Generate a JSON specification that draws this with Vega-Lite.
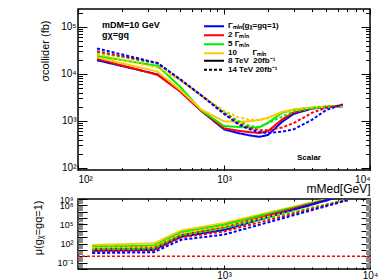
{
  "$schema": "https://vega.github.io/schema/vega-lite/v6.json",
  "autosize": "none",
  "padding": {"left": 78, "top": 9, "right": 312, "bottom": 271},
  "background": "white",
  "spacing": 29,
  "bounds": "flush",
  "config": {
    "font": "Liberation Sans",
    "view": {"stroke": "black", "strokeWidth": 1.5},
    "axis": {"domain": false, "grid": false, "ticks": true, "tickColor": "black", "tickWidth": 1, "labelColor": "black", "labelFont": "Liberation Sans", "labelFontSize": 10, "labelOverlap": false, "titleFont": "Liberation Sans", "titleFontWeight": "normal", "titleColor": "black"},
    "legend": {"orient": "none", "title": null, "direction": "vertical", "symbolType": "stroke", "symbolSize": 400, "symbolStrokeWidth": 2, "labelFont": "Liberation Sans", "labelFontWeight": "bold", "labelFontSize": 8, "labelColor": "black", "rowPadding": 0, "clipHeight": 8.6, "padding": 0, "labelOffset": 3}
  },
  "datasets": {
    "top": [
      {"m":135,"sigma":19500,"width":"1","energy":"8"},{"m":350,"sigma":9770,"width":"1","energy":"8"},{"m":500,"sigma":4270,"width":"1","energy":"8"},{"m":700,"sigma":1620,"width":"1","energy":"8"},{"m":1000,"sigma":661,"width":"1","energy":"8"},{"m":1250,"sigma":550,"width":"1","energy":"8"},{"m":1500,"sigma":490,"width":"1","energy":"8"},{"m":1750,"sigma":457,"width":"1","energy":"8"},{"m":2000,"sigma":501,"width":"1","energy":"8"},{"m":2500,"sigma":955,"width":"1","energy":"8"},{"m":3000,"sigma":1410,"width":"1","energy":"8"},{"m":4000,"sigma":1820,"width":"1","energy":"8"},{"m":5000,"sigma":1950,"width":"1","energy":"8"},{"m":6500,"sigma":2040,"width":"1","energy":"8"},
      {"m":135,"sigma":20900,"width":"2","energy":"8"},{"m":350,"sigma":9550,"width":"2","energy":"8"},{"m":500,"sigma":4270,"width":"2","energy":"8"},{"m":700,"sigma":1620,"width":"2","energy":"8"},{"m":1000,"sigma":692,"width":"2","energy":"8"},{"m":1250,"sigma":617,"width":"2","energy":"8"},{"m":1500,"sigma":575,"width":"2","energy":"8"},{"m":1750,"sigma":550,"width":"2","energy":"8"},{"m":2000,"sigma":603,"width":"2","energy":"8"},{"m":2500,"sigma":1070,"width":"2","energy":"8"},{"m":3000,"sigma":1510,"width":"2","energy":"8"},{"m":4000,"sigma":1860,"width":"2","energy":"8"},{"m":5000,"sigma":2000,"width":"2","energy":"8"},{"m":6500,"sigma":2040,"width":"2","energy":"8"},
      {"m":135,"sigma":24000,"width":"5","energy":"8"},{"m":350,"sigma":14800,"width":"5","energy":"8"},{"m":500,"sigma":5370,"width":"5","energy":"8"},{"m":700,"sigma":1660,"width":"5","energy":"8"},{"m":1000,"sigma":776,"width":"5","energy":"8"},{"m":1250,"sigma":741,"width":"5","energy":"8"},{"m":1500,"sigma":724,"width":"5","energy":"8"},{"m":1750,"sigma":724,"width":"5","energy":"8"},{"m":2000,"sigma":912,"width":"5","energy":"8"},{"m":2500,"sigma":1480,"width":"5","energy":"8"},{"m":3000,"sigma":1740,"width":"5","energy":"8"},{"m":4000,"sigma":1910,"width":"5","energy":"8"},{"m":5000,"sigma":2000,"width":"5","energy":"8"},{"m":6500,"sigma":2040,"width":"5","energy":"8"},
      {"m":135,"sigma":22400,"width":"10","energy":"8"},{"m":350,"sigma":11200,"width":"10","energy":"8"},{"m":500,"sigma":4570,"width":"10","energy":"8"},{"m":700,"sigma":1740,"width":"10","energy":"8"},{"m":1000,"sigma":977,"width":"10","energy":"8"},{"m":1250,"sigma":955,"width":"10","energy":"8"},{"m":1500,"sigma":977,"width":"10","energy":"8"},{"m":1750,"sigma":1050,"width":"10","energy":"8"},{"m":2000,"sigma":1150,"width":"10","energy":"8"},{"m":2500,"sigma":1550,"width":"10","energy":"8"},{"m":3000,"sigma":1740,"width":"10","energy":"8"},{"m":4000,"sigma":1910,"width":"10","energy":"8"},{"m":5000,"sigma":2000,"width":"10","energy":"8"},{"m":6500,"sigma":2040,"width":"10","energy":"8"},
      {"m":135,"sigma":26300,"width":"10","energy":"14"},{"m":350,"sigma":13500,"width":"10","energy":"14"},{"m":500,"sigma":7410,"width":"10","energy":"14"},{"m":700,"sigma":3470,"width":"10","energy":"14"},{"m":1000,"sigma":1620,"width":"10","energy":"14"},{"m":1250,"sigma":1200,"width":"10","energy":"14"},{"m":1500,"sigma":1050,"width":"10","energy":"14"},{"m":1750,"sigma":1050,"width":"10","energy":"14"},{"m":2000,"sigma":1170,"width":"10","energy":"14"},{"m":2500,"sigma":1510,"width":"10","energy":"14"},{"m":3000,"sigma":1740,"width":"10","energy":"14"},{"m":4000,"sigma":1910,"width":"10","energy":"14"},{"m":5000,"sigma":2000,"width":"10","energy":"14"},{"m":6500,"sigma":2140,"width":"10","energy":"14"},
      {"m":135,"sigma":28800,"width":"5","energy":"14"},{"m":350,"sigma":16600,"width":"5","energy":"14"},{"m":500,"sigma":7590,"width":"5","energy":"14"},{"m":700,"sigma":3470,"width":"5","energy":"14"},{"m":1000,"sigma":1510,"width":"5","energy":"14"},{"m":1250,"sigma":1000,"width":"5","energy":"14"},{"m":1500,"sigma":776,"width":"5","energy":"14"},{"m":1750,"sigma":741,"width":"5","energy":"14"},{"m":2000,"sigma":891,"width":"5","energy":"14"},{"m":2500,"sigma":1230,"width":"5","energy":"14"},{"m":3000,"sigma":1580,"width":"5","energy":"14"},{"m":4000,"sigma":1860,"width":"5","energy":"14"},{"m":5000,"sigma":2000,"width":"5","energy":"14"},{"m":6500,"sigma":2140,"width":"5","energy":"14"},
      {"m":135,"sigma":30200,"width":"2","energy":"14"},{"m":350,"sigma":17000,"width":"2","energy":"14"},{"m":500,"sigma":7590,"width":"2","energy":"14"},{"m":700,"sigma":3470,"width":"2","energy":"14"},{"m":1000,"sigma":1450,"width":"2","energy":"14"},{"m":1250,"sigma":891,"width":"2","energy":"14"},{"m":1500,"sigma":708,"width":"2","energy":"14"},{"m":1750,"sigma":631,"width":"2","energy":"14"},{"m":2000,"sigma":631,"width":"2","energy":"14"},{"m":2500,"sigma":724,"width":"2","energy":"14"},{"m":3000,"sigma":891,"width":"2","energy":"14"},{"m":4000,"sigma":1480,"width":"2","energy":"14"},{"m":5000,"sigma":1910,"width":"2","energy":"14"},{"m":6500,"sigma":2190,"width":"2","energy":"14"},
      {"m":135,"sigma":34700,"width":"1","energy":"14"},{"m":350,"sigma":17000,"width":"1","energy":"14"},{"m":500,"sigma":7760,"width":"1","energy":"14"},{"m":700,"sigma":3470,"width":"1","energy":"14"},{"m":1000,"sigma":1410,"width":"1","energy":"14"},{"m":1250,"sigma":851,"width":"1","energy":"14"},{"m":1500,"sigma":661,"width":"1","energy":"14"},{"m":1750,"sigma":575,"width":"1","energy":"14"},{"m":2000,"sigma":550,"width":"1","energy":"14"},{"m":2500,"sigma":589,"width":"1","energy":"14"},{"m":3000,"sigma":661,"width":"1","energy":"14"},{"m":4000,"sigma":1050,"width":"1","energy":"14"},{"m":5000,"sigma":1700,"width":"1","energy":"14"},{"m":6500,"sigma":2240,"width":"1","energy":"14"}
    ],
    "bottom": [
      {"m":125,"mu":58.9,"width":"10","energy":"8"},{"m":330,"mu":105,"width":"10","energy":"8"},{"m":510,"mu":10700,"width":"10","energy":"8"},{"m":1000,"mu":166000,"width":"10","energy":"8"},{"m":7000,"mu":5620000000,"width":"10","energy":"8"},
      {"m":125,"mu":31.6,"width":"5","energy":"8"},{"m":330,"mu":44.7,"width":"5","energy":"8"},{"m":510,"mu":5750,"width":"5","energy":"8"},{"m":1000,"mu":89100,"width":"5","energy":"8"},{"m":7000,"mu":5500000000,"width":"5","energy":"8"},
      {"m":125,"mu":13.8,"width":"2","energy":"8"},{"m":330,"mu":20,"width":"2","energy":"8"},{"m":510,"mu":2240,"width":"2","energy":"8"},{"m":1000,"mu":35500,"width":"2","energy":"8"},{"m":7000,"mu":5370000000,"width":"2","energy":"8"},
      {"m":125,"mu":7.41,"width":"1","energy":"8"},{"m":330,"mu":10,"width":"1","energy":"8"},{"m":510,"mu":1200,"width":"1","energy":"8"},{"m":1000,"mu":13800,"width":"1","energy":"8"},{"m":7000,"mu":5250000000,"width":"1","energy":"8"},
      {"m":125,"mu":20,"width":"10","energy":"14"},{"m":330,"mu":28.2,"width":"10","energy":"14"},{"m":510,"mu":3980,"width":"10","energy":"14"},{"m":1000,"mu":50100,"width":"10","energy":"14"},{"m":7000,"mu":794000000,"width":"10","energy":"14"},
      {"m":125,"mu":11.2,"width":"5","energy":"14"},{"m":330,"mu":15.8,"width":"5","energy":"14"},{"m":510,"mu":2000,"width":"5","energy":"14"},{"m":1000,"mu":25100,"width":"5","energy":"14"},{"m":7000,"mu":759000000,"width":"5","energy":"14"},
      {"m":125,"mu":5.75,"width":"2","energy":"14"},{"m":330,"mu":7.94,"width":"2","energy":"14"},{"m":510,"mu":933,"width":"2","energy":"14"},{"m":1000,"mu":7940,"width":"2","energy":"14"},{"m":7000,"mu":708000000,"width":"2","energy":"14"},
      {"m":125,"mu":3.16,"width":"1","energy":"14"},{"m":330,"mu":4.27,"width":"1","energy":"14"},{"m":510,"mu":398,"width":"1","energy":"14"},{"m":1000,"mu":2510,"width":"1","energy":"14"},{"m":7000,"mu":631000000,"width":"1","energy":"14"}
    ]
  },
  "vconcat": [
    {
      "width": 292,
      "height": 161,
      "layer": [
        {
          "data": {"name": "top"},
          "mark": {"type": "line", "clip": true, "strokeWidth": 2},
          "encoding": {
            "x": {"field": "m", "type": "quantitative", "scale": {"type": "log", "domain": [100, 10000], "nice": false},
              "axis": {"orient": "bottom", "values": [100,200,300,400,500,600,700,800,900,1000,2000,3000,4000,5000,6000,7000,8000,9000,10000],
                "labelExpr": "datum.value == 100 ? '10²' : datum.value == 1000 ? '10³' : datum.value == 10000 ? '10⁴' : ''",
                "tickSize": -2.5, "labelPadding": 6.5, "labelFlush": true,
                "title": "mMed[GeV]", "titleFontSize": 12, "titleX": 292, "titleY": 22, "titleAlign": "right", "titleBaseline": "alphabetic"}},
            "y": {"field": "sigma", "type": "quantitative", "scale": {"type": "log", "domain": [90, 240000], "nice": false},
              "axis": {"orient": "left", "values": [100,200,300,400,500,600,700,800,900,1000,2000,3000,4000,5000,6000,7000,8000,9000,10000,20000,30000,40000,50000,60000,70000,80000,90000,100000,200000],
                "labelExpr": "datum.value == 100 ? '10²' : datum.value == 1000 ? '10³' : datum.value == 10000 ? '10⁴' : datum.value == 100000 ? '10⁵' : ''",
                "tickSize": -4.5, "labelPadding": 6.5,
                "title": "σcollider (fb)", "titleFontSize": 11, "titleAngle": -90, "titleX": -33, "titleY": 11, "titleAlign": "right", "titleBaseline": "middle"}},
            "color": {"field": "width", "type": "nominal", "scale": {"domain": ["1","2","5","10"], "range": ["#0000ff","#ff0000","#00ee00","#ffc800"]},
              "legend": {"legendX": 125, "legendY": 13, "labelExpr": "datum.label == '1' ? 'Γₘᵢₙ(gᵪ=gq=1)' : datum.label == '2' ? '2 Γₘᵢₙ' : datum.label == '5' ? '5 Γₘᵢₙ' : '10\u00a0\u00a0\u00a0\u00a0\u00a0\u00a0\u00a0Γₘᵢₙ'"}},
            "strokeDash": {"field": "energy", "type": "nominal", "scale": {"domain": ["8","14"], "range": [[1,0],[3,2]]},
              "legend": {"legendX": 125, "legendY": 47.5, "symbolStrokeColor": "black", "labelExpr": "datum.label == '8' ? '8 TeV\u00a0\u00a020fb⁻¹' : '14 TeV 20fb⁻¹'"}}
          }
        },
        {
          "data": {"values": [{}]},
          "mark": {"type": "text", "text": "Scalar", "font": "Liberation Sans", "fontWeight": "bold", "fontSize": 8, "align": "left", "baseline": "alphabetic"},
          "encoding": {
            "x": {"datum": 3160, "type": "quantitative",
              "axis": {"orient": "top", "values": [100,200,300,400,500,600,700,800,900,1000,2000,3000,4000,5000,6000,7000,8000,9000,10000], "labels": false, "title": null, "tickSize": -2.5}},
            "y": {"datum": 148, "type": "quantitative",
              "axis": {"orient": "right", "values": [100,200,300,400,500,600,700,800,900,1000,2000,3000,4000,5000,6000,7000,8000,9000,10000,20000,30000,40000,50000,60000,70000,80000,90000,100000,200000], "labels": false, "title": null, "tickSize": -4.5}}
          }
        },
        {
          "data": {"values": [{}]},
          "mark": {"type": "text", "text": "mDM=10 GeV", "font": "Liberation Sans", "fontWeight": "bold", "fontSize": 9, "align": "left", "baseline": "alphabetic"},
          "encoding": {
            "x": {"datum": 146, "type": "quantitative", "axis": null},
            "y": {"datum": 95300, "type": "quantitative",
              "axis": {"orient": "left", "values": [100,1000,10000,100000], "labels": false, "title": null, "tickSize": -9}}
          }
        },
        {
          "data": {"values": [{}]},
          "mark": {"type": "text", "text": "gχ=gq", "font": "Liberation Sans", "fontWeight": "bold", "fontSize": 9, "align": "left", "baseline": "alphabetic"},
          "encoding": {
            "x": {"datum": 146, "type": "quantitative",
              "axis": {"orient": "bottom", "values": [100,1000,10000], "labels": false, "title": null, "tickSize": -5}},
            "y": {"datum": 58300, "type": "quantitative", "axis": null}
          }
        },
        {
          "data": {"values": [{}]},
          "mark": {"type": "text", "text": ""},
          "encoding": {
            "x": {"datum": 1000, "type": "quantitative",
              "axis": {"orient": "top", "values": [100,1000,10000], "labels": false, "title": null, "tickSize": -5}},
            "y": {"datum": 1000, "type": "quantitative",
              "axis": {"orient": "right", "values": [100,1000,10000,100000], "labels": false, "title": null, "tickSize": -9}}
          }
        }
      ],
      "resolve": {"axis": {"x": "independent", "y": "independent"}}
    },
    {
      "width": 292,
      "height": 70,
      "layer": [
        {
          "data": {"name": "bottom"},
          "mark": {"type": "line", "clip": true, "strokeWidth": 2},
          "encoding": {
            "x": {"field": "m", "type": "quantitative", "scale": {"type": "log", "domain": [100, 10000], "nice": false},
              "axis": {"orient": "bottom", "values": [100,200,300,400,500,600,700,800,900,1000,2000,3000,4000,5000,6000,7000,8000,9000,10000],
                "labelExpr": "datum.value == 1000 ? '10³' : datum.value == 10000 ? '10⁴' : ''",
                "tickSize": -2, "labelPadding": 3, "labelFlush": false, "title": null}},
            "y": {"field": "mu", "type": "quantitative", "scale": {"type": "log", "domain": [0.01, 1000000000], "nice": false},
              "axis": {"orient": "left", "values": [0.01,0.02,0.03,0.04,0.05,0.06,0.07,0.08,0.09,0.1,0.2,0.3,0.4,0.5,0.6,0.7,0.8,0.9,1,2,3,4,5,6,7,8,9,10,20,30,40,50,60,70,80,90,100,200,300,400,500,600,700,800,900,1000,2000,3000,4000,5000,6000,7000,8000,9000,10000,20000,30000,40000,50000,60000,70000,80000,90000,100000,200000,300000,400000,500000,600000,700000,800000,900000,1000000,2000000,3000000,4000000,5000000,6000000,7000000,8000000,9000000,10000000,20000000,30000000,40000000,50000000,60000000,70000000,80000000,90000000,100000000,200000000,300000000,400000000,500000000,600000000,700000000,800000000,900000000,1000000000],
                "labelExpr": "datum.value == 0.1 ? '10⁻¹' : datum.value == 100 ? '10²' : datum.value == 100000 ? '10⁵' : datum.value == 100000000 ? '10⁸' : datum.value == 1000000000 ? '10⁹' : ''",
                "tickSize": -4.4, "tickColor": "#888888", "labelPadding": 9.4, "labelFontSize": 9,
                "title": "μ(gᵪ=gq=1)", "titleFontSize": 11, "titleAngle": -90, "titleX": -40, "titleY": 1, "titleAlign": "right", "titleBaseline": "middle"}},
            "color": {"field": "width", "type": "nominal", "scale": {"domain": ["1","2","5","10"], "range": ["#0000ff","#ff0000","#00ee00","#ffc800"]}, "legend": null},
            "strokeDash": {"field": "energy", "type": "nominal", "scale": {"domain": ["8","14"], "range": [[1,0],[3,2]]}, "legend": null}
          }
        },
        {
          "data": {"values": [{}]},
          "mark": {"type": "rule", "color": "#ff0000", "strokeDash": [3,2], "strokeWidth": 1.5},
          "encoding": {
            "y": {"datum": 1, "type": "quantitative",
              "axis": {"orient": "right", "values": [0.01,0.1,1,10,100,1000,10000,100000,1000000,10000000,100000000,1000000000], "labels": false, "title": null, "tickSize": -9}}
          }
        },
        {
          "data": {"values": [{}]},
          "mark": {"type": "text", "text": ""},
          "encoding": {
            "x": {"datum": 1000, "type": "quantitative",
              "axis": {"orient": "top", "values": [100,200,300,400,500,600,700,800,900,1000,2000,3000,4000,5000,6000,7000,8000,9000,10000], "labels": false, "title": null, "tickSize": -2}}
          }
        },
        {
          "data": {"values": [{}]},
          "mark": {"type": "text", "text": ""},
          "encoding": {
            "x": {"datum": 1000, "type": "quantitative",
              "axis": {"orient": "bottom", "values": [100,1000,10000], "labels": false, "title": null, "tickSize": -4}},
            "y": {"datum": 1, "type": "quantitative",
              "axis": {"orient": "left", "values": [0.01,0.1,1,10,100,1000,10000,100000,1000000,10000000,100000000,1000000000], "labels": false, "title": null, "tickSize": -9}}
          }
        },
        {
          "data": {"values": [{}]},
          "mark": {"type": "text", "text": ""},
          "encoding": {
            "x": {"datum": 1000, "type": "quantitative",
              "axis": {"orient": "top", "values": [100,1000,10000], "labels": false, "title": null, "tickSize": -4}},
            "y": {"datum": 1, "type": "quantitative",
              "axis": {"orient": "right", "values": [0.01,0.02,0.03,0.04,0.05,0.06,0.07,0.08,0.09,0.1,0.2,0.3,0.4,0.5,0.6,0.7,0.8,0.9,1,2,3,4,5,6,7,8,9,10,20,30,40,50,60,70,80,90,100,200,300,400,500,600,700,800,900,1000,2000,3000,4000,5000,6000,7000,8000,9000,10000,20000,30000,40000,50000,60000,70000,80000,90000,100000,200000,300000,400000,500000,600000,700000,800000,900000,1000000,2000000,3000000,4000000,5000000,6000000,7000000,8000000,9000000,10000000,20000000,30000000,40000000,50000000,60000000,70000000,80000000,90000000,100000000,200000000,300000000,400000000,500000000,600000000,700000000,800000000,900000000,1000000000], "labels": false, "title": null, "tickSize": -4.4, "tickColor": "#888888"}}
          }
        }
      ],
      "resolve": {"axis": {"x": "independent", "y": "independent"}}
    }
  ]
}
